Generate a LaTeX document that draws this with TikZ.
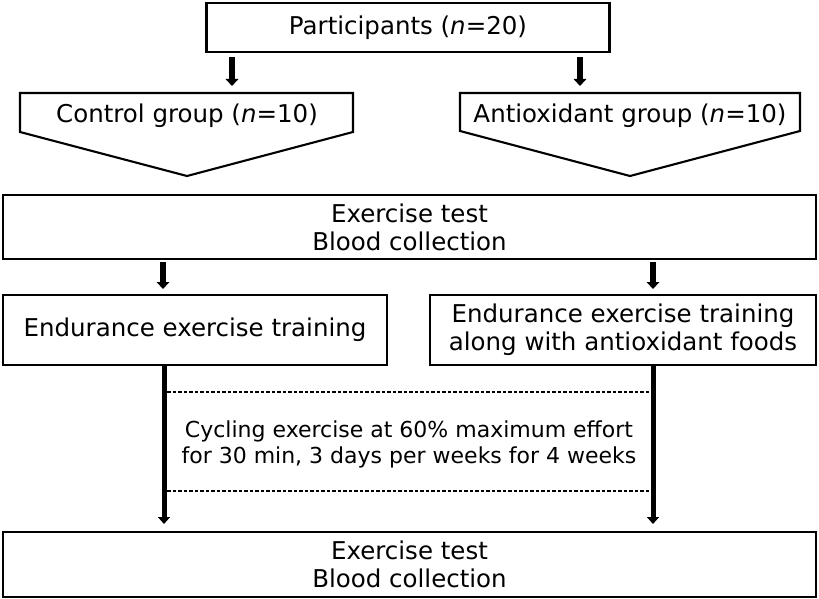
\documentclass[tikz,border=0pt]{standalone}
\usepackage{fontspec}
\setmainfont{DejaVu Sans}
\usetikzlibrary{arrows.meta}
\begin{document}
\begin{tikzpicture}[x=1pt,y=-1pt,
  box/.style={draw,line width=2.6pt,inner sep=0pt},
  big/.style={font=\fontsize{24.5}{28}\selectfont,align=center},
  small/.style={font=\fontsize{22}{26}\selectfont,align=center},
  arr/.style={line width=5.5pt,-{Triangle[length=7pt,width=12.5pt]}},
  longarr/.style={line width=5pt,-{Triangle[length=7pt,width=12pt]}},
  dashline/.style={line width=1.3pt,dash pattern=on 3.5pt off 2pt}]
\useasboundingbox (0,0) rectangle (819,599);
% Participants
\node[box,big,minimum width=403pt,minimum height=49pt] (part) at (408,27.5) {Participants (\textit{n}=20)};
% pentagons
\draw[line width=2.1pt] (20,93) -- (353,93) -- (353,132) -- (187,176) -- (20,132) -- cycle;
\node[big] (ctrl) at (187,116) {Control group (\textit{n}=10)};
\draw[line width=2.1pt] (460,93) -- (800,93) -- (800,131) -- (630,176) -- (460,131) -- cycle;
\node[big] (anti) at (630,116) {Antioxidant group (\textit{n}=10)};
\coordinate (a1s) at (232,57); \coordinate (a1e) at (232,86);
\coordinate (a2s) at (580,57); \coordinate (a2e) at (580,86);
\draw[arr] (a1s) -- (a1e);
\draw[arr] (a2s) -- (a2e);
% Exercise test 1
\node[box,big,minimum width=813pt,minimum height=64pt] (ex1) at (409.5,227) {Exercise test\\Blood collection};
\coordinate (b1s) at (163,262); \coordinate (b1e) at (163,289);
\coordinate (b2s) at (653,262); \coordinate (b2e) at (653,289);
\draw[arr] (b1s) -- (b1e);
\draw[arr] (b2s) -- (b2e);
% Endurance boxes
\node[box,big,minimum width=384pt,minimum height=70pt] (end1) at (195,330) {Endurance exercise training};
\node[box,big,minimum width=386pt,minimum height=70pt] (end2) at (623,330) {Endurance exercise training\\along with antioxidant foods};
% long arrows
\coordinate (c1s) at (164,366); \coordinate (c1e) at (164,524);
\coordinate (c2s) at (653,366); \coordinate (c2e) at (653,524);
\draw[longarr] (c1s) -- (c1e);
\draw[longarr] (c2s) -- (c2e);
\draw[dashline] (167,392) -- (650,392);
\draw[dashline] (167,491) -- (650,491);
\node[small] (cyc) at (409,444) {Cycling exercise at 60\% maximum effort\\for 30 min, 3 days per weeks for 4 weeks};
% Exercise test 2
\node[box,big,minimum width=813pt,minimum height=65pt] (ex2) at (409.5,564.5) {Exercise test\\Blood collection};
\end{tikzpicture}
\end{document}
